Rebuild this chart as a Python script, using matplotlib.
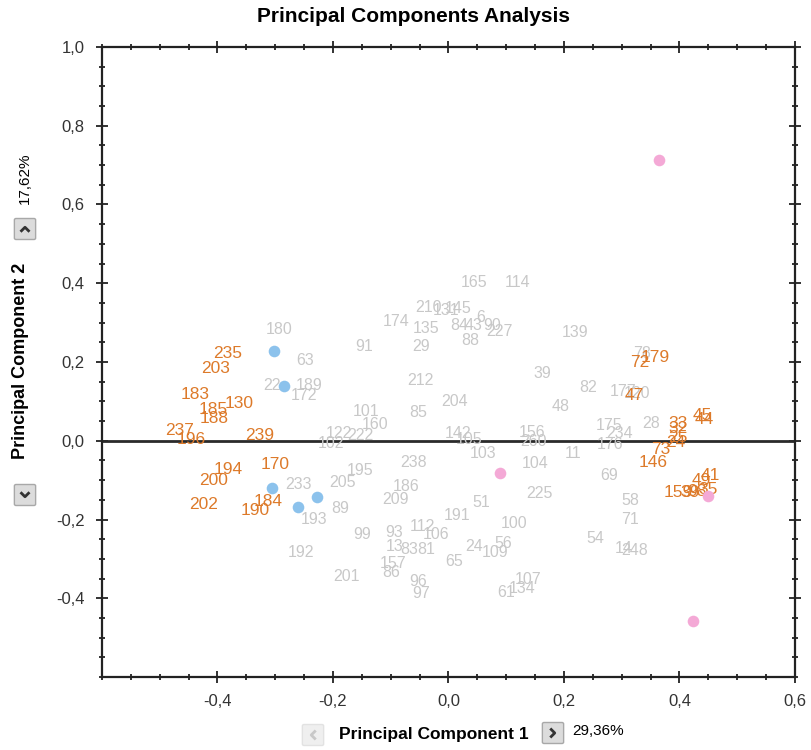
import matplotlib
matplotlib.use('Agg')
import matplotlib.pyplot as plt
from matplotlib.ticker import FuncFormatter, MultipleLocator
from matplotlib.lines import Line2D
from matplotlib.patches import FancyBboxPatch

# grey sample labels (PC1, PC2)
grey_names = ['165', '114', '210', '131', '145', '174', '135', '84', '43', '6', '90', '227', '88',
              '91', '29', '180', '63', '22', '189', '172', '139', '78', '212', '39', '82', '177', '120',
              '101', '85', '204', '48', '160', '122', '222', '102', '142', '105', '156', '260', '175',
              '234', '176', '28', '11', '103', '104', '238', '195', '205', '186', '225', '69', '209',
              '89', '51', '58', '191', '100', '71', '193', '233', '99', '93', '112', '106', '13', '83',
              '81', '54', '14', '248', '192', '24', '56', '109', '65', '157', '86', '201', '96', '97',
              '107', '61', '134']
grey_x = [0.045, 0.120, -0.035, -0.005, 0.017, -0.090, -0.038, 0.019, 0.043, 0.056, 0.075, 0.089, 0.038,
          -0.146, -0.047, -0.294, -0.249, -0.306, -0.242, -0.250, 0.219, 0.336, -0.049, 0.163, 0.242, 0.303, 0.327,
          -0.143, -0.052, 0.010, 0.195, -0.127, -0.190, -0.153, -0.203, 0.017, 0.035, 0.144, 0.148, 0.278,
          0.296, 0.280, 0.351, 0.216, 0.059, 0.150, -0.061, -0.153, -0.183, -0.073, 0.157, 0.278, -0.092,
          -0.188, 0.057, 0.315, 0.014, 0.113, 0.315, -0.233, -0.259, -0.150, -0.094, -0.045, -0.021, -0.094, -0.068,
          -0.038, 0.254, 0.304, 0.323, -0.256, 0.045, 0.094, 0.080, 0.009, -0.096, -0.099, -0.176, -0.052, -0.047,
          0.137, 0.099, 0.127]
grey_y = [0.403, 0.403, 0.339, 0.331, 0.336, 0.303, 0.285, 0.293, 0.293, 0.313, 0.293, 0.278, 0.255,
          0.239, 0.239, 0.283, 0.204, 0.140, 0.140, 0.115, 0.275, 0.222, 0.153, 0.171, 0.135, 0.125, 0.120,
          0.074, 0.071, 0.099, 0.087, 0.041, 0.018, 0.013, -0.008, 0.018, 0.003, 0.020, -0.003, 0.038,
          0.018, -0.010, 0.043, -0.033, -0.033, -0.059, -0.054, -0.076, -0.107, -0.115, -0.135, -0.087, -0.148,
          -0.173, -0.158, -0.153, -0.191, -0.211, -0.201, -0.199, -0.110, -0.237, -0.232, -0.217, -0.239, -0.268, -0.275,
          -0.275, -0.247, -0.273, -0.278, -0.283, -0.268, -0.260, -0.285, -0.306, -0.311, -0.334, -0.346, -0.357, -0.387,
          -0.352, -0.385, -0.375]

# orange sample labels
orange_names = ['235', '203', '183', '130', '185', '188', '237', '196', '239', '194', '170', '200', '202',
                '184', '190', '179', '72', '47', '45', '44', '33', '32', '25', '24', '73', '146', '49', '41',
                '159', '39', '98', '35']
orange_x = [-0.383, -0.403, -0.438, -0.363, -0.407, -0.405, -0.466, -0.445, -0.327, -0.381, -0.301, -0.407, -0.424,
            -0.313, -0.334, 0.358, 0.332, 0.322, 0.440, 0.442, 0.397, 0.397, 0.397, 0.393, 0.367, 0.355, 0.438, 0.454,
            0.397, 0.419, 0.430, 0.450]
orange_y = [0.222, 0.183, 0.117, 0.094, 0.079, 0.056, 0.025, 0.003, 0.013, -0.074, -0.061, -0.102, -0.161,
            -0.155, -0.178, 0.211, 0.199, 0.115, 0.064, 0.054, 0.043, 0.031, 0.008, -0.005, -0.023, -0.054, -0.102, -0.089,
            -0.132, -0.132, -0.130, -0.125]

# highlighted points
blue_x = [-0.302, -0.284, -0.305, -0.260, -0.227]
blue_y = [0.228, 0.140, -0.119, -0.168, -0.142]
pink_x = [0.365, 0.089, 0.450, 0.424]
pink_y = [0.713, -0.081, -0.140, -0.457]

narrow = ['Liberation Sans Narrow', 'Liberation Sans', 'DejaVu Sans']
plt.rcParams['font.family'] = ['Liberation Sans', 'DejaVu Sans']

fig = plt.figure(figsize=(8.12, 7.5), dpi=100)
ax = fig.add_axes([102 / 812, 1 - 677 / 750, (795 - 102) / 812, (677 - 47) / 750])

ax.set_xlim(-0.6, 0.6)
ax.set_ylim(-0.6, 1.0)

for n, x, y in zip(grey_names, grey_x, grey_y):
    ax.text(x, y, n, color='#c8c8c8', fontsize=11.5, ha='center', va='center')
for n, x, y in zip(orange_names, orange_x, orange_y):
    ax.text(x, y, n, color='#dd7a2a', fontsize=12.5, ha='center', va='center')

ax.scatter(blue_x, blue_y, s=70, color='#8cc2ec', zorder=3, linewidths=0)
ax.scatter(pink_x, pink_y, s=70, color='#f4a9d6', zorder=3, linewidths=0)

ax.axhline(0, color='#2a2a2a', lw=2, zorder=2)

fmt = FuncFormatter(lambda v, p: f'{v:.1f}'.replace('.', ','))
ax.set_xticks([-0.4, -0.2, 0.0, 0.2, 0.4, 0.6])
ax.set_yticks([-0.4, -0.2, 0.0, 0.2, 0.4, 0.6, 0.8, 1.0])
ax.xaxis.set_major_formatter(fmt)
ax.yaxis.set_major_formatter(fmt)
ax.xaxis.set_minor_locator(MultipleLocator(0.05))
ax.yaxis.set_minor_locator(MultipleLocator(0.05))
ax.tick_params(which='both', direction='inout', top=True, right=True, color='#222222', width=1.3)
ax.tick_params(which='major', length=9, labelsize=12, pad=8, labelcolor='#333333')
ax.tick_params(which='minor', length=5)
for lab in ax.get_xticklabels() + ax.get_yticklabels():
    lab.set_family(narrow)
for s in ax.spines.values():
    s.set_linewidth(1.6)
    s.set_color('#222222')

# title and axis captions
fig.text(414 / 812, 1 - 16 / 750, 'Principal Components Analysis', ha='center', va='center',
         fontsize=15, fontweight='bold', family=narrow)
fig.text(434 / 812, 1 - 735 / 750, 'Principal Component 1', ha='center', va='center',
         fontsize=12.5, fontweight='bold', family=narrow)
fig.text(598 / 812, 1 - 731 / 750, '29,36%', ha='center', va='center', fontsize=11, family=narrow)
fig.text(21 / 812, 1 - 361 / 750, 'Principal Component 2', ha='center', va='center', rotation=90,
         fontsize=13, fontweight='bold', family=narrow)
fig.text(25 / 812, 1 - 178 / 750, '17,62%', ha='center', va='center', rotation=90, fontsize=11, family=narrow)


def button(cx, cy, arrow, active):
    # small grey button with a chevron, pixel coords
    w, h = 18, 18
    face = '#dcdcdc' if active else '#efefef'
    edge = '#a8a8a8' if active else '#e2e2e2'
    fig.patches.append(FancyBboxPatch(((cx - w / 2) / 812, 1 - (cy + h / 2) / 750), w / 812, h / 750,
                                      boxstyle='round,pad=0.002', transform=fig.transFigure,
                                      facecolor=face, edgecolor=edge, lw=1))
    c = '#333333' if active else '#c8c8c8'
    d = 3.5
    if arrow == '<':
        pts = [(cx + d / 2, cy - d), (cx - d / 2, cy), (cx + d / 2, cy + d)]
    elif arrow == '>':
        pts = [(cx - d / 2, cy - d), (cx + d / 2, cy), (cx - d / 2, cy + d)]
    elif arrow == '^':
        pts = [(cx - d, cy + d / 2), (cx, cy - d / 2), (cx + d, cy + d / 2)]
    else:
        pts = [(cx - d, cy - d / 2), (cx, cy + d / 2), (cx + d, cy - d / 2)]
    fig.lines.append(Line2D([p[0] / 812 for p in pts], [1 - p[1] / 750 for p in pts],
                            transform=fig.transFigure, color=c, lw=2))


button(313, 735, '<', False)
button(553, 733, '>', True)
button(25, 229, '^', True)
button(25, 495, 'v', True)

fig.savefig('out.png', dpi=100)
